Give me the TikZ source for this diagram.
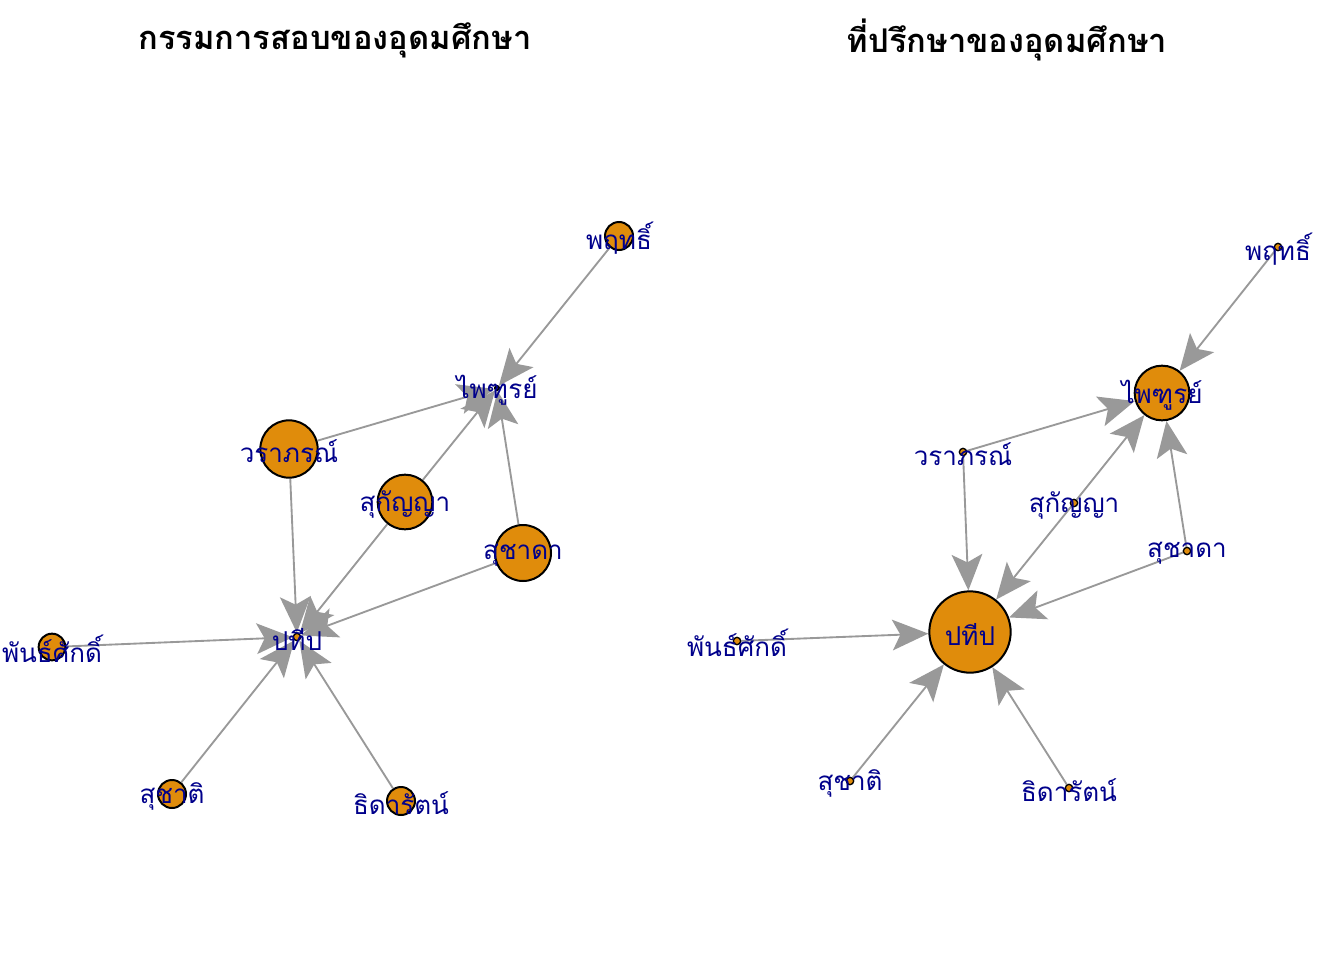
\documentclass[tikz,border=0pt]{standalone}
\usepackage{fontspec}
\newfontfamily\thaifont[Script=Thai]{Loma}
\usetikzlibrary{arrows.meta,backgrounds}
\definecolor{vfill}{RGB}{224,140,11}
\definecolor{edgegray}{RGB}{153,153,153}
\definecolor{lblblue}{RGB}{0,0,139}

\begin{document}
\begin{tikzpicture}[x=0.75pt, y=-0.75pt,
  vert/.style={circle, draw=black, line width=1.5pt, fill=vfill, inner sep=0pt},
  dot/.style={vert, line width=1pt, minimum size=5.5pt},
  lbl/.style={text=lblblue, inner sep=0pt, yshift=-1.5pt,
    font=\thaifont\fontsize{19.5}{20}\selectfont},
  edge/.style={draw=edgegray, line width=1.4pt, -{Stealth[length=27pt, width=23pt, inset=6pt]}},
  ttl/.style={font=\thaifont\bfseries\fontsize{24.5}{25}\selectfont}]

  \useasboundingbox (0,0) rectangle (1344,960);

  % Titles
  \node[ttl] (ttlL) at (335,40) {กรรมการสอบของอุดมศึกษา};
  \node[ttl] (ttlR) at (1007,40) {ที่ปรึกษาของอุดมศึกษา};

  % Left graph: vertices
  \node[vert, minimum size=21pt, label={[lbl]center:พฤทธิ์}] (lPr) at (619,236) {};
  \node[vert, minimum size=3pt, label={[lbl]center:ไพฑูรย์}] (lPh) at (497,388) {};
  \node[vert, minimum size=43pt, label={[lbl]center:วราภรณ์}] (lWa) at (289,449) {};
  \node[vert, minimum size=41pt, label={[lbl]center:สุกัญญา}] (lSk) at (405,502) {};
  \node[vert, minimum size=42pt, label={[lbl]center:สุชาดา}] (lSd) at (523,553) {};
  \node[dot, label={[lbl]center:ปทีป}] (lPt) at (297,637) {};
  \node[vert, minimum size=20pt, label={[lbl]center:พันธ์ศักดิ์}] (lPs) at (52,647) {};
  \node[vert, minimum size=21pt, label={[lbl]center:สุชาติ}] (lSc) at (172,794) {};
  \node[vert, minimum size=21pt, label={[lbl]center:ธิดารัตน์}] (lTr) at (401,801) {};

  % Right graph: vertices
  \node[dot, label={[lbl]center:พฤทธิ์}] (rPr) at (1278,247) {};
  \node[vert, minimum size=41pt, label={[lbl]center:ไพฑูรย์}] (rPh) at (1162,393) {};
  \node[dot, label={[lbl]center:วราภรณ์}] (rWa) at (963,452) {};
  \node[dot, label={[lbl]center:สุกัญญา}] (rSk) at (1074,503) {};
  \node[dot, label={[lbl]center:สุชาดา}] (rSd) at (1187,551) {};
  \node[vert, minimum size=61pt, label={[lbl]center:ปทีป}] (rPt) at (970,632) {};
  \node[dot, label={[lbl]center:พันธ์ศักดิ์}] (rPs) at (737,641) {};
  \node[dot, label={[lbl]center:สุชาติ}] (rSc) at (850,781) {};
  \node[dot, label={[lbl]center:ธิดารัตน์}] (rTr) at (1069,788) {};

  % Edges (behind the vertices)
  \begin{scope}[on background layer]
    \foreach \s in {l,r} {
      \draw[edge] (\s Pr) -- (\s Ph);
      \draw[edge] (\s Wa) -- (\s Ph);
      \draw[edge] (\s Sk) -- (\s Ph);
      \draw[edge] (\s Sd) -- (\s Ph);
      \draw[edge] (\s Wa) -- (\s Pt);
      \draw[edge] (\s Sk) -- (\s Pt);
      \draw[edge] (\s Sd) -- (\s Pt);
      \draw[edge] (\s Ps) -- (\s Pt);
      \draw[edge] (\s Sc) -- (\s Pt);
      \draw[edge] (\s Tr) -- (\s Pt);
    }
  \end{scope}

\end{tikzpicture}
\end{document}
